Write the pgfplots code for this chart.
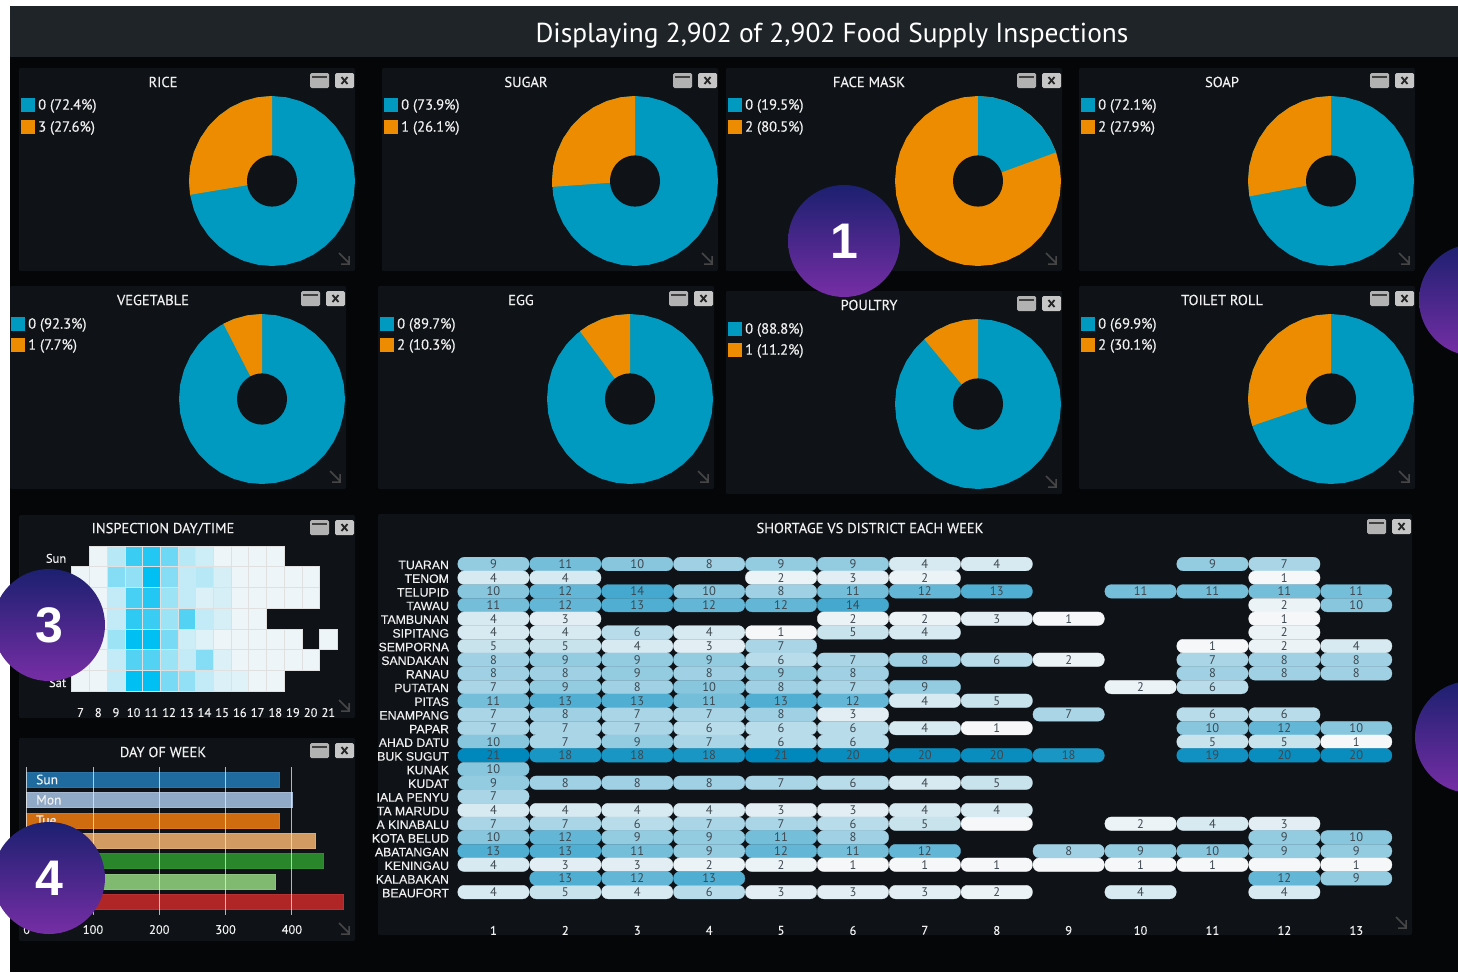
\documentclass[border=0pt]{standalone}
\usepackage{fontspec}
\usepackage{pgfplots}
\usepgfplotslibrary{polar}
\pgfplotsset{compat=1.18}
\usepackage{pgfplotstable}
\setmainfont{PT Sans}
\newfontfamily\arial{Liberation Sans}
\newfontfamily\arialb[FakeBold=0.25]{Liberation Sans}
\newfontfamily\ptb[FakeBold=0.25]{PT Sans}
\definecolor{pagebg}{HTML}{050607}
\definecolor{panel}{HTML}{0F1317}
\definecolor{head}{HTML}{1F2428}
\definecolor{cblue}{HTML}{0099BF}
\definecolor{corange}{HTML}{EE8C00}
\definecolor{txt}{HTML}{F0F0F0}
\definecolor{bsun}{HTML}{1F6A9E}\definecolor{bsund}{HTML}{2D73A5}
\definecolor{bmon}{HTML}{8FA9C6}\definecolor{bmond}{HTML}{A5B9D2}
\definecolor{btue}{HTML}{D06C10}\definecolor{btued}{HTML}{D7781E}
\definecolor{bwed}{HTML}{D29B62}\definecolor{bwedd}{HTML}{DCAA73}
\definecolor{bthu}{HTML}{2A862A}\definecolor{bthud}{HTML}{328C32}
\definecolor{bfri}{HTML}{7FBA70}\definecolor{bfrid}{HTML}{8CC37D}
\definecolor{bsat}{HTML}{B02626}\definecolor{bsatd}{HTML}{B93232}
\definecolor{btop}{HTML}{1C2070}\definecolor{bbot}{HTML}{762EA5}
\definecolor{numtxt}{HTML}{3E4850}
\newcommand{\fs}[1]{\fontsize{#1}{#1}\selectfont}
\pgfdeclareplotmark{hcell}{\pgfpathrectangle{\pgfpoint{-8.85pt}{-10.35pt}}{\pgfpoint{17.7pt}{20.7pt}}\pgfusepathqfillstroke}
\pgfdeclareplotmark{scell}{\pgfsetcornersarced{\pgfpoint{6.5pt}{6.5pt}}%
  \pgfpathmoveto{\pgfpoint{0pt}{-6.8pt}}\pgfpathlineto{\pgfpoint{35.7pt}{-6.8pt}}\pgfpathlineto{\pgfpoint{35.7pt}{6.8pt}}%
  \pgfpathlineto{\pgfpoint{-35.7pt}{6.8pt}}\pgfpathlineto{\pgfpoint{-35.7pt}{-6.8pt}}\pgfpathclose\pgfusepath{fill,stroke}}
\pgfplotstableread{
t out in
0 83 25
10 83 25
20 83 25
30 83 25
40 83 25
50 83 25
60 83 25
70 83 25
80 83 25
90 83 25
100 83 25
110 83 25
120 83 25
130 83 25
140 83 25
150 83 25
160 83 25
170 83 25
180 83 25
190 83 25
200 83 25
210 83 25
220 83 25
230 83 25
240 83 25
250 83 25
260 83 25
270 83 25
280 83 25
290 83 25
300 83 25
310 83 25
320 83 25
330 83 25
340 83 25
350 83 25
}\disc
\pgfplotstableread{
h d v
8 0 3
9 0 25
10 0 75
11 0 85
12 0 55
13 0 25
14 0 15
15 0 2
16 0 2
17 0 2
18 0 2
7 1 2
8 1 2
9 1 45
10 1 40
11 1 100
12 1 45
13 1 20
14 1 25
15 1 12
16 1 2
17 1 2
18 1 2
19 1 2
20 1 2
7 2 2
8 2 2
9 2 20
10 2 70
11 2 85
12 2 35
13 2 20
14 2 10
15 2 12
16 2 2
17 2 2
18 2 2
19 2 2
20 2 2
7 3 2
8 3 2
9 3 20
10 3 80
11 3 75
12 3 35
13 3 65
14 3 20
15 3 12
16 3 2
17 3 2
7 4 2
8 4 2
9 4 35
10 4 100
11 4 100
12 4 50
13 4 15
14 4 8
15 4 2
16 4 2
17 4 2
18 4 2
19 4 2
21 4 2
7 5 2
8 5 2
9 5 20
10 5 65
11 5 65
12 5 35
13 5 20
14 5 45
15 5 10
16 5 2
17 5 2
18 5 2
19 5 2
20 5 2
7 6 2
8 6 2
9 6 20
10 6 100
11 6 100
12 6 50
13 6 40
14 6 20
15 6 10
16 6 8
17 6 2
18 6 2
}\heat
% panel: x y w h titlecentre title
\newcommand{\chartpanel}[6]{%
  \fill[panel,rounded corners=2pt] (#1,-#2) rectangle ({#1+#3},{-#2-#4});
  \node[text=txt,font=\ptb\fs{14.5}] at (#5,{-#2-14}) {#6};
  \fill[gray!60,rounded corners=1.5pt] ({#1+#3-45},{-#2-5}) rectangle ({#1+#3-26},{-#2-20});
  \fill[black!75] ({#1+#3-43},{-#2-7.5}) rectangle ({#1+#3-28},{-#2-9.5});
  \fill[gray!45,rounded corners=1.5pt] ({#1+#3-20},{-#2-5}) rectangle ({#1+#3-1},{-#2-20});
  \draw[black!85,line width=1.8pt] ({#1+#3-13.5},{-#2-9}) -- ({#1+#3-7.5},{-#2-16}) ({#1+#3-7.5},{-#2-9}) -- ({#1+#3-13.5},{-#2-16});
  \draw[gray!55!black,line width=1.5pt] ({#1+#3-16},{-#2-#4+18}) -- ({#1+#3-6},{-#2-#4+8}) ({#1+#3-6},{-#2-#4+15}) -- ({#1+#3-6},{-#2-#4+7}) -- ({#1+#3-14},{-#2-#4+7});
}
\newcommand{\legendrow}[4]{%
  \fill[#3] (#1,-#2) rectangle ({#1+13.5},{-#2-14});
  \node[anchor=west,text=txt,font=\ptb\fs{14.6},inner sep=0pt] at ({#1+17},{-#2-8}) {#4};
}
% donut: cx cy base top coords
\newcommand{\donut}[5]{%
  \begin{polaraxis}[at={(#1pt,-#2pt)},anchor=center,scale only axis,width=166pt,height=170pt,hide axis,clip=false,xmin=0,xmax=360,ymin=0,ymax=83]
    \addplot[fill=#3,draw=none] table[x=t,y=out] {\disc} --cycle;
    \addplot[fill=#4,draw=none] coordinates {(0,0) #5} --cycle;
    \addplot[fill=panel,draw=none] table[x=t,y=in] {\disc} --cycle;
  \end{polaraxis}%
}
\begin{document}
\begin{tikzpicture}[x=1pt,y=1pt]
\useasboundingbox (0,-972) rectangle (1458,0);
\clip (0,-972) rectangle (1458,0);
\fill[white] (0,-972) rectangle (1458,0);
\fill[pagebg] (9.5,-972) rectangle (1458,-6);
\fill[head] (9.5,-6) rectangle (1458,-57);
\node[text=white,font=\fs{27.4}] at (832,-36) {Displaying 2,902 of 2,902 Food Supply Inspections};

\chartpanel{19}{68}{336}{203}{163}{RICE}
\chartpanel{382}{68}{336}{203}{526}{SUGAR}
\chartpanel{726}{68}{336}{203}{869}{FACE MASK}
\chartpanel{1079}{68}{336}{203}{1222}{SOAP}
\chartpanel{10}{286}{336}{203}{153}{VEGETABLE}
\chartpanel{378}{286}{336}{203}{521}{EGG}
\chartpanel{726}{291}{336}{203}{869}{POULTRY}
\chartpanel{1079}{286}{336}{203}{1222}{TOILET ROLL}
\chartpanel{19}{515}{336}{203}{163}{INSPECTION DAY/TIME}
\chartpanel{19}{738}{336}{203}{163}{DAY OF WEEK}
\chartpanel{378}{514}{1034}{421}{870}{SHORTAGE VS DISTRICT EACH WEEK}

\legendrow{21}{98}{cblue}{0 (72.4\%)}
\legendrow{21}{120}{corange}{3 (27.6\%)}
\legendrow{384}{98}{cblue}{0 (73.9\%)}
\legendrow{384}{120}{corange}{1 (26.1\%)}
\legendrow{728}{98}{cblue}{0 (19.5\%)}
\legendrow{728}{120}{corange}{2 (80.5\%)}
\legendrow{1081}{98}{cblue}{0 (72.1\%)}
\legendrow{1081}{120}{corange}{2 (27.9\%)}
\legendrow{11}{317}{cblue}{0 (92.3\%)}
\legendrow{11}{338}{corange}{1 (7.7\%)}
\legendrow{380}{317}{cblue}{0 (89.7\%)}
\legendrow{380}{338}{corange}{2 (10.3\%)}
\legendrow{728}{322}{cblue}{0 (88.8\%)}
\legendrow{728}{343}{corange}{1 (11.2\%)}
\legendrow{1081}{317}{cblue}{0 (69.9\%)}
\legendrow{1081}{338}{corange}{2 (30.1\%)}

\donut{272}{181}{cblue}{corange}{(90,83)(100,83)(110,83)(120,83)(130,83)(140,83)(150,83)(160,83)(170,83)(180,83)(189.36,83)}
\donut{635}{181}{cblue}{corange}{(90,83)(100,83)(110,83)(120,83)(130,83)(140,83)(150,83)(160,83)(170,83)(180,83)(183.96,83)}
\donut{978}{181}{corange}{cblue}{(90,83)(80,83)(70,83)(60,83)(50,83)(40,83)(30,83)(19.8,83)}
\donut{1331}{181}{cblue}{corange}{(90,83)(100,83)(110,83)(120,83)(130,83)(140,83)(150,83)(160,83)(170,83)(180,83)(190.44,83)}
\donut{262}{399}{cblue}{corange}{(90,83)(100,83)(110,83)(117.72,83)}
\donut{630}{399}{cblue}{corange}{(90,83)(100,83)(110,83)(120,83)(127.08,83)}
\donut{978}{404}{cblue}{corange}{(90,83)(100,83)(110,83)(120,83)(130.32,83)}
\donut{1331}{399}{cblue}{corange}{(90,83)(100,83)(110,83)(120,83)(130,83)(140,83)(150,83)(160,83)(170,83)(180,83)(190,83)(198.36,83)}

% heat map
\begin{axis}[at={(71.7pt,-546pt)},anchor=north west,scale only axis,width=265.5pt,height=145pt,
  xmin=6.5,xmax=21.5,ymin=-0.5,ymax=6.5,y dir=reverse,clip=false,
  axis line style={draw=none},tick style={draw=none},
  xtick={7,...,21},ytick={0,6},yticklabels={Sun,Sat},
  /pgf/number format/assume math mode=true,
  tick label style={text=txt,font=\ptb\fs{12.5}},
  xticklabel style={yshift=-13.5pt},yticklabel style={xshift=-2pt,yshift=-2pt},
  colormap={hm}{rgb255(0cm)=(243,246,248); rgb255(1cm)=(0,191,242)},
  point meta min=0,point meta max=100]
  \addplot[scatter,only marks,mark=hcell,line width=0.6pt,scatter src=explicit,
    scatter/use mapped color={fill=mapped color,draw=black!12}] table[x=h,y=d,meta=v] {\heat};
\end{axis}

% day of week
\begin{axis}[at={(26.7pt,-767pt)},anchor=north west,scale only axis,width=317.3pt,height=148pt,
  xmin=0,xmax=478.6,ymin=-0.61,ymax=6.64,y dir=reverse,clip=false,
  axis on top,xmajorgrids,grid style={white!85!gray,opacity=0.75,line width=0.9pt},
  axis line style={draw=none},tick style={draw=none},
  xtick={0,100,200,300,400},ytick=\empty,
  /pgf/number format/assume math mode=true,
  tick label style={text=txt,font=\ptb\fs{12.5}},
  xticklabel style={yshift=-6.5pt}]
  \addplot[xbar,bar shift=0pt,bar width=15pt,fill=bsun,draw=bsund] coordinates {(381,0)};
  \addplot[xbar,bar shift=0pt,bar width=15pt,fill=bmon,draw=bmond] coordinates {(400,1)};
  \addplot[xbar,bar shift=0pt,bar width=15pt,fill=btue,draw=btued] coordinates {(381,2)};
  \addplot[xbar,bar shift=0pt,bar width=15pt,fill=bwed,draw=bwedd] coordinates {(435,3)};
  \addplot[xbar,bar shift=0pt,bar width=15pt,fill=bthu,draw=bthud] coordinates {(447,4)};
  \addplot[xbar,bar shift=0pt,bar width=15pt,fill=bfri,draw=bfrid] coordinates {(375,5)};
  \addplot[xbar,bar shift=0pt,bar width=15pt,fill=bsat,draw=bsatd] coordinates {(478,6)};
  \node[anchor=west,text=txt,font=\ptb\fs{13.5},inner sep=0pt] at (axis cs:14,0) {Sun};
  \node[anchor=west,text=txt,font=\ptb\fs{13.5},inner sep=0pt] at (axis cs:14,1) {Mon};
  \node[anchor=west,text=txt,font=\ptb\fs{13.5},inner sep=0pt] at (axis cs:14,2) {Tue};
\end{axis}

% shortage heat map
\begin{axis}[at={(457.5pt,-557.2pt)},anchor=north west,scale only axis,width=934.7pt,height=341.7pt,
  xmin=0.5,xmax=13.5,ymin=0.5,ymax=25.5,y dir=reverse,clip=false,
  axis line style={draw=none},tick style={draw=none},
  xtick={1,...,13},ytick={1,...,25},
  yticklabels={TUARAN,TENOM,TELUPID,TAWAU,TAMBUNAN,SIPITANG,SEMPORNA,SANDAKAN,RANAU,PUTATAN,PITAS,ENAMPANG,PAPAR,AHAD DATU,BUK SUGUT,KUNAK,KUDAT,IALA PENYU,TA MARUDU,A KINABALU,KOTA BELUD,ABATANGAN,KENINGAU,KALABAKAN,BEAUFORT},
  /pgf/number format/assume math mode=true,
  tick label style={text=txt,font=\ptb\fs{12.5}},
  xticklabel style={yshift=-23.5pt},
  yticklabel style={font=\arialb\fs{12.3},xshift=-5pt,yshift=-1pt},
  colormap={sh}{rgb255(0cm)=(246,247,248); rgb255(3cm)=(216,234,241); rgb255(6cm)=(170,213,230); rgb255(9cm)=(136,198,222); rgb255(12cm)=(80,174,210); rgb255(17cm)=(26,150,196); rgb255(20cm)=(0,136,189)},
  point meta min=1,point meta max=21]
  \addplot[scatter,only marks,mark=scell,line width=0.3pt,point meta=explicit,
    scatter/use mapped color={fill=mapped color,draw=mapped color}] coordinates {
    (8,20)[1] (9,23)[1] (12,23)[1]
  };
  \addplot[scatter,only marks,mark=scell,line width=0.3pt,point meta=explicit,
    scatter/use mapped color={fill=mapped color,draw=mapped color},
    nodes near coords*,nodes near coords align={center},
    every node near coord/.style={anchor=center,inner sep=0pt,text=numtxt,font=\fs{12.5}}] coordinates {
    (1,1)[9] (2,1)[11] (3,1)[10] (4,1)[8] (5,1)[9] (6,1)[9] (7,1)[4] (8,1)[4] (11,1)[9] (12,1)[7]
    (1,2)[4] (2,2)[4] (5,2)[2] (6,2)[3] (7,2)[2] (12,2)[1]
    (1,3)[10] (2,3)[12] (3,3)[14] (4,3)[10] (5,3)[8] (6,3)[11] (7,3)[12] (8,3)[13] (10,3)[11] (11,3)[11] (12,3)[11] (13,3)[11]
    (1,4)[11] (2,4)[12] (3,4)[13] (4,4)[12] (5,4)[12] (6,4)[14] (12,4)[2] (13,4)[10]
    (1,5)[4] (2,5)[3] (6,5)[2] (7,5)[2] (8,5)[3] (9,5)[1] (12,5)[1]
    (1,6)[4] (2,6)[4] (3,6)[6] (4,6)[4] (5,6)[1] (6,6)[5] (7,6)[4] (12,6)[2]
    (1,7)[5] (2,7)[5] (3,7)[4] (4,7)[3] (5,7)[7] (11,7)[1] (12,7)[2] (13,7)[4]
    (1,8)[8] (2,8)[9] (3,8)[9] (4,8)[9] (5,8)[6] (6,8)[7] (7,8)[8] (8,8)[6] (9,8)[2] (11,8)[7] (12,8)[8] (13,8)[8]
    (1,9)[8] (2,9)[8] (3,9)[9] (4,9)[8] (5,9)[9] (6,9)[8] (11,9)[8] (12,9)[8] (13,9)[8]
    (1,10)[7] (2,10)[9] (3,10)[8] (4,10)[10] (5,10)[8] (6,10)[7] (7,10)[9] (10,10)[2] (11,10)[6]
    (1,11)[11] (2,11)[13] (3,11)[13] (4,11)[11] (5,11)[13] (6,11)[12] (7,11)[4] (8,11)[5]
    (1,12)[7] (2,12)[8] (3,12)[7] (4,12)[7] (5,12)[8] (6,12)[3] (9,12)[7] (11,12)[6] (12,12)[6]
    (1,13)[7] (2,13)[7] (3,13)[7] (4,13)[6] (5,13)[6] (6,13)[6] (7,13)[4] (8,13)[1] (11,13)[10] (12,13)[12] (13,13)[10]
    (1,14)[10] (2,14)[7] (3,14)[9] (4,14)[7] (5,14)[6] (6,14)[6] (11,14)[5] (12,14)[5] (13,14)[1]
    (1,15)[21] (2,15)[18] (3,15)[18] (4,15)[18] (5,15)[21] (6,15)[20] (7,15)[20] (8,15)[20] (9,15)[18] (11,15)[19] (12,15)[20] (13,15)[20]
    (1,16)[10]
    (1,17)[9] (2,17)[8] (3,17)[8] (4,17)[8] (5,17)[7] (6,17)[6] (7,17)[4] (8,17)[5]
    (1,18)[7]
    (1,19)[4] (2,19)[4] (3,19)[4] (4,19)[4] (5,19)[3] (6,19)[3] (7,19)[4] (8,19)[4]
    (1,20)[7] (2,20)[7] (3,20)[6] (4,20)[7] (5,20)[7] (6,20)[6] (7,20)[5] (10,20)[2] (11,20)[4] (12,20)[3]
    (1,21)[10] (2,21)[12] (3,21)[9] (4,21)[9] (5,21)[11] (6,21)[8] (12,21)[9] (13,21)[10]
    (1,22)[13] (2,22)[13] (3,22)[11] (4,22)[9] (5,22)[12] (6,22)[11] (7,22)[12] (9,22)[8] (10,22)[9] (11,22)[10] (12,22)[9] (13,22)[9]
    (1,23)[4] (2,23)[3] (3,23)[3] (4,23)[2] (5,23)[2] (6,23)[1] (7,23)[1] (8,23)[1] (10,23)[1] (11,23)[1] (13,23)[1]
    (2,24)[13] (3,24)[12] (4,24)[13] (12,24)[12] (13,24)[9]
    (1,25)[4] (2,25)[5] (3,25)[4] (4,25)[6] (5,25)[3] (6,25)[3] (7,25)[3] (8,25)[2] (10,25)[4] (12,25)[4]
  };
\end{axis}

% numbered badges
\foreach \cx/\cy/\n in {844/241/1,49/625/3,49/878/4,1475/300/{},1471/737/{}}{
  \shade[top color=btop,bottom color=bbot] (\cx,-\cy) circle (56);
  \node[text=white,font=\arial\bfseries\fs{50}] at (\cx,-\cy) {\n};
}
\end{tikzpicture}
\end{document}
